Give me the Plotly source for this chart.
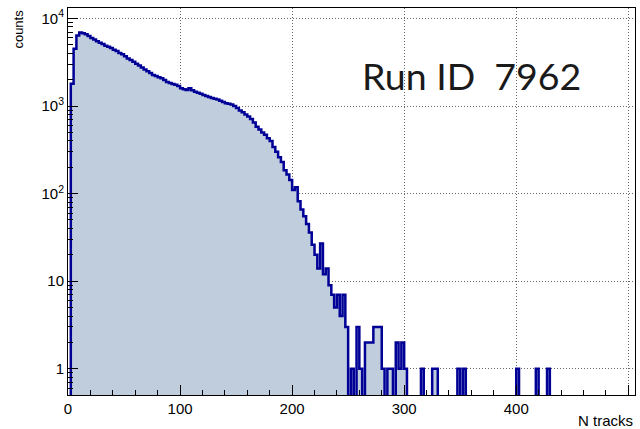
import plotly.graph_objects as go

# Histogram of track multiplicity, bin width 2.5, counts per bin starting at 0
bin_width = 2.5
n_bins = 202
counts = [
    0, 1800, 4500, 6400, 6900, 6800, 6600, 6300, 6000, 5750,      # 0 - 22.5
    5500, 5300, 5100, 4900, 4750, 4600, 4400, 4250, 4050, 3900,    # 25 - 47.5
    3700, 3500, 3350, 3200, 3050, 2900, 2750, 2620, 2500, 2380,    # 50 - 72.5
    2260, 2200, 2140, 2080, 1980, 1880, 1830, 1790, 1750, 1700,    # 75 - 97.5
    1600, 1560, 1530, 1600, 1520, 1460, 1420, 1380, 1340, 1300,    # 100 - 122.5
    1270, 1240, 1210, 1190, 1150, 1110, 1080, 1060, 1040, 1000,    # 125 - 147.5
    950, 890, 850, 800, 760, 710, 650, 580, 540, 500,              # 150 - 172.5
    470, 430, 400, 340, 300, 260, 230, 185, 165, 143,              # 175 - 197.5
    110, 118, 82, 66, 55, 45, 36, 26, 20, 14,                      # 200 - 222.5
    27, 12, 14, 9, 7, 5, 7, 4, 7, 3,                               # 225 - 247.5
    0, 1, 0, 3, 1, 0, 2, 2, 2, 3,                                  # 250 - 272.5
    3, 3, 1, 0, 1, 1, 0, 2, 1, 2,                                  # 275 - 297.5
    1, 0, 0, 0, 0, 0, 1, 0, 0, 0,                                  # 300 - 322.5
    1, 1, 0, 0, 0, 0, 0, 0, 0, 1,                                  # 325 - 347.5
    0, 1, 0, 0, 0, 0, 0, 0, 0, 0,                                  # 350 - 372.5
    0, 0, 0, 0, 0, 0, 0, 0, 0, 0,                                  # 375 - 397.5
    1, 0, 0, 0, 0, 0, 0, 1, 0, 0,                                  # 400 - 422.5
    0, 1,                                                          # 425 - 427.5
]
counts = counts + [0] * (n_bins - len(counts))

x_ticks = [0, 100, 200, 300, 400, 500]
y_ticks = [1, 10, 100, 1000, 10000]
y_ticktext = ["1", "10", "10<sup>2</sup>", "10<sup>3</sup>", "10<sup>4</sup>"]
run_label = "Run ID\u00a0\u00a07962"

# step outline: bin edges, empty bins pushed below the axis so the line drops to the frame
edges = [i * bin_width for i in range(n_bins + 1)]
floor = 0.01
y_step = [c if c > 0 else floor for c in counts]
y_step = y_step + [y_step[-1]]

fig = go.Figure()
fig.add_trace(go.Scatter(
    x=edges, y=y_step, mode="lines",
    line=dict(shape="hv", color="#000096", width=2.5),
    fill="tozeroy", fillcolor="#bfcddd",
    showlegend=False, hoverinfo="skip",
))

grid = dict(showgrid=True, gridcolor="rgba(0,0,0,0.6)", gridwidth=1, griddash="1px,2px",
            showline=True, linecolor="black", linewidth=1, mirror=True, automargin=False,
            zeroline=False, ticks="inside", ticklen=10, tickcolor="black",
            tickfont=dict(family="Liberation Sans", size=15, color="black"))

fig.update_xaxes(range=[0, 506], tickvals=x_ticks,
                 minor=dict(ticks="inside", ticklen=5, dtick=20, tick0=0, tickcolor="black", showgrid=False),
                 **grid)
minor_y = [m / 10 for m in range(6, 10)] + [m * 10 ** d for d in range(0, 5) for m in range(2, 10)]
fig.update_yaxes(type="log", range=[-0.30, 4.12], tickvals=y_ticks, ticktext=y_ticktext,
                 minor=dict(ticks="inside", ticklen=5, tickvals=minor_y, tickcolor="black", showgrid=False),
                 **grid)

fig.add_annotation(text=run_label, xref="paper", yref="paper", x=0.711, y=0.826,
                   xanchor="center", yanchor="middle", showarrow=False,
                   font=dict(family="Lato", size=37.5, color="#1a1a1a"))
fig.add_annotation(text="counts", xref="paper", yref="paper", x=-0.088, y=1.0,
                   xanchor="center", yanchor="top", textangle=-90, showarrow=False,
                   font=dict(family="Liberation Sans", size=13, color="black"))
fig.add_annotation(text="N tracks", xref="paper", yref="paper", x=1.0, y=-0.065,
                   xanchor="right", yanchor="middle", showarrow=False,
                   font=dict(family="Liberation Sans", size=15, color="black"))

fig.update_layout(
    width=640, height=429,
    margin=dict(l=68, r=5, t=8, b=34, autoexpand=False),
    plot_bgcolor="white", paper_bgcolor="white",
)
# drop the default page margin so the figure fills the window exactly
fig.write_html("out.html", config={"displayModeBar": False},
               post_script="document.body.style.margin = '0';")
